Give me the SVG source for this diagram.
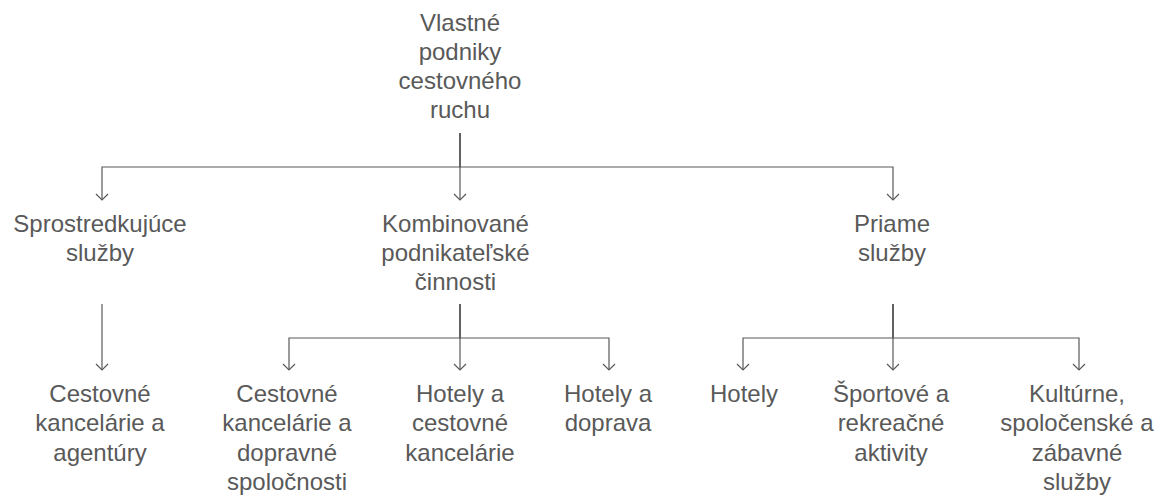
<svg xmlns="http://www.w3.org/2000/svg" width="1171" height="496" viewBox="0 0 1171 496">
<style>
text{font-family:"Liberation Sans",Arial,Helvetica,sans-serif;font-size:24px;fill:#595959;text-anchor:middle}
.c{fill:none;stroke:#595959;stroke-width:1.2}
</style>
<defs>
<marker id="arr" markerUnits="userSpaceOnUse" markerWidth="14" markerHeight="14" refX="7" refY="7" orient="auto" viewBox="0 0 14 14">
<path d="M1,1 L7,7 L1,13" fill="none" stroke="#595959" stroke-width="1.2"/>
</marker>
</defs>
<rect width="1171" height="496" fill="#ffffff"/>
<g id="connectors">
<path class="c" d="M460,133 V167 H102 V200" marker-end="url(#arr)"/>
<path class="c" d="M460,133 V200" marker-end="url(#arr)"/>
<path class="c" d="M460,133 V167 H893 V200" marker-end="url(#arr)"/>
<path class="c" d="M102,304 V370" marker-end="url(#arr)"/>
<path class="c" d="M460,304 V338 H289 V370" marker-end="url(#arr)"/>
<path class="c" d="M460,304 V370" marker-end="url(#arr)"/>
<path class="c" d="M460,304 V338 H609 V370" marker-end="url(#arr)"/>
<path class="c" d="M893,304 V338 H743 V370" marker-end="url(#arr)"/>
<path class="c" d="M893,304 V370" marker-end="url(#arr)"/>
<path class="c" d="M893,304 V338 H1079 V370" marker-end="url(#arr)"/>
</g>
<g id="root"><text x="460" y="30.5">Vlastné</text><text x="460" y="59.7">podniky</text><text x="460" y="89">cestovného</text><text x="460" y="118.3">ruchu</text></g>
<g id="sprostredkujuce"><text x="100" y="232">Sprostredkujúce</text><text x="100" y="261">služby</text></g>
<g id="kombinovane"><text x="455.5" y="232">Kombinované</text><text x="455.5" y="261">podnikateľské</text><text x="455.5" y="290">činnosti</text></g>
<g id="priame"><text x="892" y="232">Priame</text><text x="892" y="261">služby</text></g>
<g id="ck-agentury"><text x="100" y="401.5">Cestovné</text><text x="100" y="431">kancelárie a</text><text x="100" y="460.5">agentúry</text></g>
<g id="ck-doprava"><text x="287" y="401.5">Cestovné</text><text x="287" y="431">kancelárie a</text><text x="287" y="460.5">dopravné</text><text x="287" y="490">spoločnosti</text></g>
<g id="hotely-ck"><text x="460" y="401.5">Hotely a</text><text x="460" y="431">cestovné</text><text x="460" y="460.5">kancelárie</text></g>
<g id="hotely-doprava"><text x="608" y="401.5">Hotely a</text><text x="608" y="431">doprava</text></g>
<g id="hotely"><text x="744" y="401.5">Hotely</text></g>
<g id="sport"><text x="891" y="401.5">Športové a</text><text x="891" y="431">rekreačné</text><text x="891" y="460.5">aktivity</text></g>
<g id="kultura"><text x="1077" y="401.5">Kultúrne,</text><text x="1077" y="431">spoločenské a</text><text x="1077" y="460.5">zábavné</text><text x="1077" y="490">služby</text></g>
</svg>
